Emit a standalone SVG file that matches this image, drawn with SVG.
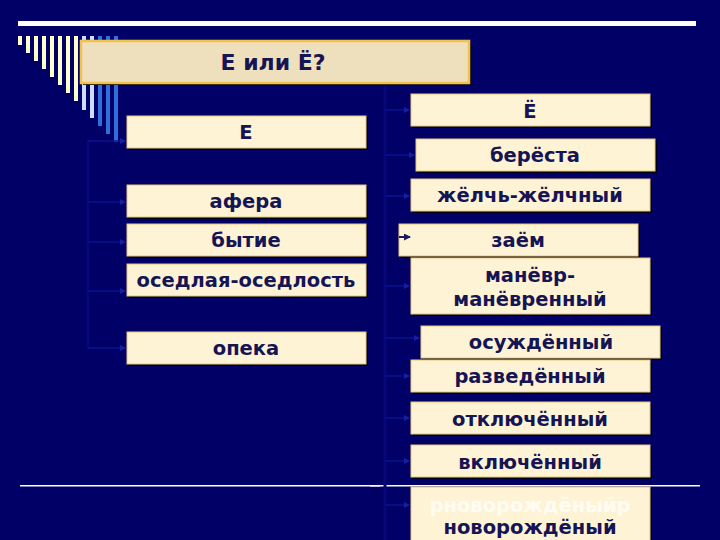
<svg xmlns="http://www.w3.org/2000/svg" width="720" height="540" viewBox="0 0 720 540">
<defs>
<style>
.bg{fill:#000066}
.cr{fill:#FFFFCC}
.lb{fill:#CCDDFF}
.bb{fill:#2C6FDD}
.sh{fill:#000018}
.box{fill:#FFF3D6;stroke:#E9C878;stroke-width:1}
.t{font-family:"DejaVu Sans","Liberation Sans",sans-serif;font-weight:bold;font-size:19.5px;fill:#151553;text-anchor:middle}
.conn{stroke:#0C1290;stroke-width:1.5;fill:none}
.vc{stroke:#07077A;stroke-width:3;fill:none}
</style>
<marker id="ah" markerWidth="6" markerHeight="6" refX="5" refY="3" orient="auto" markerUnits="userSpaceOnUse">
<path d="M0,0 L6,3 L0,6 z" fill="#1520A0"/>
</marker>
<marker id="ahd" markerWidth="7" markerHeight="7" refX="6" refY="3.5" orient="auto" markerUnits="userSpaceOnUse">
<path d="M0,0 L7,3.5 L0,7 z" fill="#1A1A66"/>
</marker>
</defs>
<rect class="bg" x="0" y="0" width="720" height="540"/>
<g id="decor">
<rect x="18" y="21" width="678" height="5" fill="#FFFFFF"/>
<rect class="cr" x="18" y="36" width="4" height="9"/>
<rect class="cr" x="26" y="36" width="4" height="17"/>
<rect class="cr" x="34" y="36" width="4" height="25"/>
<rect class="cr" x="42" y="36" width="4" height="33"/>
<rect class="cr" x="50" y="36" width="4" height="41"/>
<rect class="cr" x="58" y="36" width="4" height="49"/>
<rect class="cr" x="66" y="36" width="4" height="57"/>
<rect class="cr" x="74" y="36" width="4" height="65"/>
<rect class="lb" x="82" y="36" width="4" height="74"/>
<rect class="lb" x="90" y="36" width="4" height="82"/>
<rect class="bb" x="98" y="36" width="4" height="90"/>
<rect class="bb" x="106" y="36" width="4" height="98"/>
<rect class="bb" x="114" y="36" width="4" height="106"/>
<rect x="20" y="485" width="360" height="1.5" fill="#FFFFFF"/>
<rect x="370" y="485" width="330" height="1.5" fill="#FFFFFF"/>
</g>
<g id="connectors">
<path class="vc" d="M88,140 V349"/>
<path class="conn" d="M88,141 H125" marker-end="url(#ah)"/>
<path class="conn" d="M88,202 H125" marker-end="url(#ah)"/>
<path class="conn" d="M88,242 H125" marker-end="url(#ah)"/>
<path class="conn" d="M88,291 H125" marker-end="url(#ah)"/>
<path class="conn" d="M88,348 H125" marker-end="url(#ah)"/>
<path class="vc" d="M385,86 V540"/>
<path class="conn" d="M385,110 H409" marker-end="url(#ah)"/>
<path class="conn" d="M385,155 H414" marker-end="url(#ah)"/>
<path class="conn" d="M385,196 H409" marker-end="url(#ah)"/>
<path class="conn" d="M385,286 H409" marker-end="url(#ah)"/>
<path class="conn" d="M385,338 H419" marker-end="url(#ah)"/>
<path class="conn" d="M385,376 H409" marker-end="url(#ah)"/>
<path class="conn" d="M385,418 H409" marker-end="url(#ah)"/>
<path class="conn" d="M385,461 H409" marker-end="url(#ah)"/>
<path class="conn" d="M385,505 H409" marker-end="url(#ah)"/>
</g>
<g id="title">
<rect x="83" y="43" width="388" height="42" class="sh"/>
<rect x="81" y="41" width="388" height="42" fill="#EEDFBD" stroke="#F2C24A" stroke-width="2.5"/>
<text class="t" x="273" y="70" style="font-size:22px">Е или Ё?</text>
</g>
<g id="node-e">
<rect class="sh" x="129" y="118" width="239" height="32"/>
<rect class="box" x="127" y="116" width="239" height="32"/>
<text class="t" x="246" y="139">Е</text>
</g>
<g id="node-afera">
<rect class="sh" x="129" y="187" width="239" height="32"/>
<rect class="box" x="127" y="185" width="239" height="32"/>
<text class="t" x="246" y="208">афера</text>
</g>
<g id="node-bytie">
<rect class="sh" x="129" y="226" width="239" height="32"/>
<rect class="box" x="127" y="224" width="239" height="32"/>
<text class="t" x="246" y="247">бытие</text>
</g>
<g id="node-osedlaya">
<rect class="sh" x="129" y="266" width="239" height="32"/>
<rect class="box" x="127" y="264" width="239" height="32"/>
<text class="t" x="246" y="287">оседлая-оседлость</text>
</g>
<g id="node-opeka">
<rect class="sh" x="129" y="334" width="239" height="32"/>
<rect class="box" x="127" y="332" width="239" height="32"/>
<text class="t" x="246" y="355">опека</text>
</g>
<g id="node-yo">
<rect class="sh" x="413" y="96" width="239" height="32"/>
<rect class="box" x="411" y="94" width="239" height="32"/>
<text class="t" x="530" y="118">Ё</text>
</g>
<g id="node-beresta">
<rect class="sh" x="418" y="141" width="239" height="32"/>
<rect class="box" x="416" y="139" width="239" height="32"/>
<text class="t" x="535" y="162">берёста</text>
</g>
<g id="node-zhelch">
<rect class="sh" x="413" y="181" width="239" height="32"/>
<rect class="box" x="411" y="179" width="239" height="32"/>
<text class="t" x="530" y="202">жёлчь-жёлчный</text>
</g>
<g id="node-zaem">
<rect class="sh" x="401" y="226" width="239" height="32"/>
<rect class="box" x="399" y="224" width="239" height="32"/>
<text class="t" x="518" y="247">заём</text>
<path d="M399,237 H410" stroke="#1A1A66" stroke-width="2" marker-end="url(#ahd)"/>
</g>
<g id="node-manevr">
<rect class="sh" x="413" y="260" width="239" height="56"/>
<rect class="box" x="411" y="258" width="239" height="56"/>
<text class="t" x="530" y="282">манёвр-</text>
<text class="t" x="530" y="306">манёвренный</text>
</g>
<g id="node-osuzhdenny">
<rect class="sh" x="423" y="328" width="239" height="32"/>
<rect class="box" x="421" y="326" width="239" height="32"/>
<text class="t" x="541" y="349">осуждённый</text>
</g>
<g id="node-razvedenny">
<rect class="sh" x="413" y="362" width="239" height="32"/>
<rect class="box" x="411" y="360" width="239" height="32"/>
<text class="t" x="530" y="383">разведённый</text>
</g>
<g id="node-otklyuchenny">
<rect class="sh" x="413" y="404" width="239" height="32"/>
<rect class="box" x="411" y="402" width="239" height="32"/>
<text class="t" x="530" y="426">отключённый</text>
</g>
<g id="node-vklyuchenny">
<rect class="sh" x="413" y="447" width="239" height="32"/>
<rect class="box" x="411" y="445" width="239" height="32"/>
<text class="t" x="530" y="469">включённый</text>
</g>
<g id="node-novorozhdeny">
<rect class="sh" x="413" y="489" width="239" height="60"/>
<rect class="box" x="411" y="487" width="239" height="60"/>
<text class="t" x="530" y="512" style="fill:#FFFFFF;fill-opacity:0.75">рноворождёныйр</text>
<text class="t" x="530" y="534">новорождёный</text>
</g>
</svg>
